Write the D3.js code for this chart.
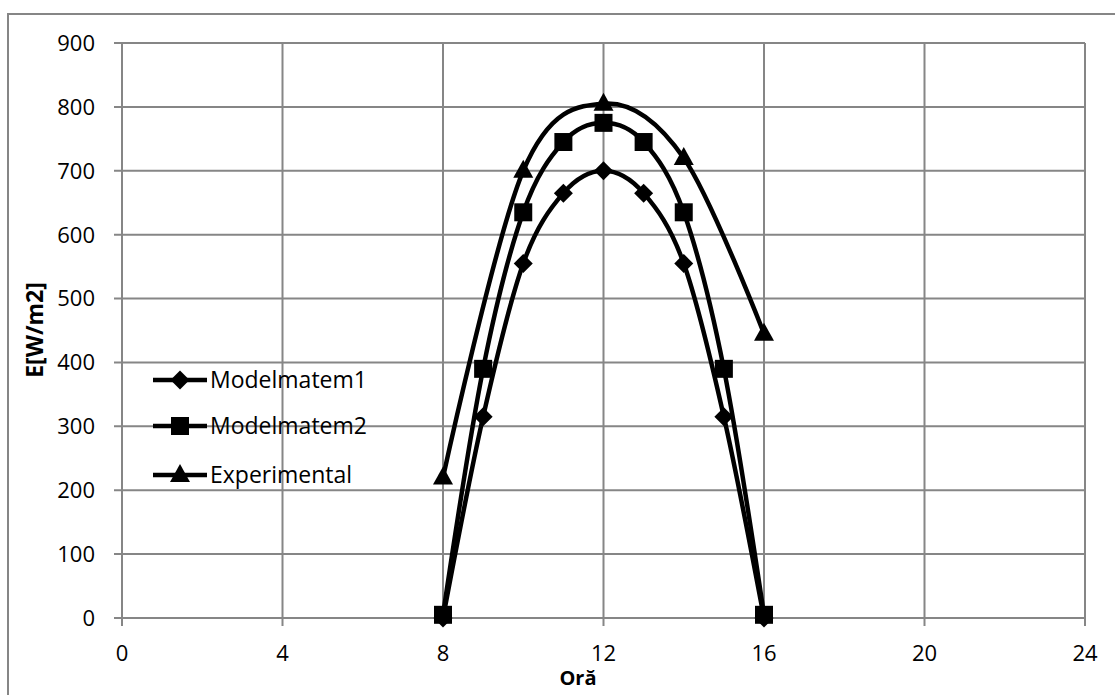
<!DOCTYPE html>
<html><head><meta charset="utf-8">
<script src="https://cdn.jsdelivr.net/npm/d3@7"></script>
<style>body{margin:0;background:#fff}svg{display:block}text{font-family:"Open Sans","Noto Sans",sans-serif}</style>
</head><body><svg id="c" width="1115" height="695"></svg>
<script>
const hours1 = [8,9,10,11,12,13,14,15,16];
const model1 = [0,315,555,665,700,665,555,315,0];
const hours2 = [8,9,10,11,12,13,14,15,16];
const model2 = [5,390,635,745,775,745,635,390,5];
const hoursExp = [8,10,12,14,16];
const experimental = [220,700,805,720,445];
const xTicks = [0,4,8,12,16,20,24];
const yTicks = [0,100,200,300,400,500,600,700,800,900];
const seriesNames = ["Modelmatem1","Modelmatem2","Experimental"];

const svg = d3.select("#c");
svg.append("rect").attr("x",8).attr("y",14).attr("width",1120).attr("height",700)
  .attr("fill","none").attr("stroke","#868686").attr("stroke-width",2);

const L=122,R=1085,T=43,B=618;
const x = d3.scaleLinear().domain([0,24]).range([L,R]);
const y = d3.scaleLinear().domain([0,900]).range([B,T]);

const grid = svg.append("g").attr("stroke","#868686").attr("stroke-width",2);
xTicks.forEach(t=>grid.append("line").attr("x1",x(t)).attr("x2",x(t)).attr("y1",T).attr("y2",B+8));
yTicks.forEach(t=>grid.append("line").attr("x1",L-8).attr("x2",R).attr("y1",y(t)).attr("y2",y(t)));

svg.append("g").selectAll("text").data(yTicks).join("text")
  .attr("x",L-27).attr("y",d=>y(d)).attr("dy","0.36em").attr("text-anchor","end")
  .attr("font-size",22).attr("fill","#000").text(d=>d);
svg.append("g").selectAll("text").data(xTicks).join("text")
  .attr("x",d=>x(d)).attr("y",B+35).attr("dy","0.36em").attr("text-anchor","middle")
  .attr("font-size",22).attr("fill","#000").text(d=>d);

svg.append("text").attr("x",578).attr("y",678).attr("dy","0.36em").attr("text-anchor","middle")
  .attr("font-size",20).attr("font-weight","bold").text("Oră");
svg.append("text").attr("transform","translate(35,330) rotate(-90)").attr("dy","0.36em")
  .attr("text-anchor","middle").attr("font-size",23).attr("font-weight","bold").text("E[W/m2]");

const line = d3.line().curve(d3.curveCardinal.tension(0)).x(d=>x(d[0])).y(d=>y(d[1]));
const series = [
  {name:seriesNames[0], pts:hours1.map((h,i)=>[h,model1[i]]), sym:d3.symbolDiamond2, size:230},
  {name:seriesNames[1], pts:hours2.map((h,i)=>[h,model2[i]]), sym:d3.symbolSquare2, size:300},
  {name:seriesNames[2], pts:hoursExp.map((h,i)=>[h,experimental[i]]), sym:d3.symbolTriangle2, size:270}
];
const sym = s=>{
  if(s.sym===d3.symbolDiamond2) return d3.symbol().type(d3.symbolDiamond2).size(s.size)();
  if(s.sym===d3.symbolSquare2) return "M-9,-9H9V9H-9Z";
  return "M0,-11L10,7H-10Z";
};
series.forEach(s=>{
  svg.append("path").attr("d",line(s.pts)).attr("fill","none").attr("stroke","#000").attr("stroke-width",4.5);
});
series.forEach(s=>{
  svg.append("g").selectAll("path").data(s.pts).join("path")
    .attr("transform",d=>`translate(${x(d[0])},${y(d[1])})`).attr("d",sym(s)).attr("fill","#000");
});

const legY=[380,426,475];
series.forEach((s,i)=>{
  const g=svg.append("g").attr("transform",`translate(0,${legY[i]})`);
  g.append("line").attr("x1",153).attr("x2",207).attr("y1",0).attr("y2",0).attr("stroke","#000").attr("stroke-width",4.5);
  g.append("path").attr("transform","translate(180,0)").attr("d",sym(s)).attr("fill","#000");
  g.append("text").attr("x",210).attr("y",0).attr("dy","0.36em").attr("font-size",23).text(s.name);
});
</script></body></html>
